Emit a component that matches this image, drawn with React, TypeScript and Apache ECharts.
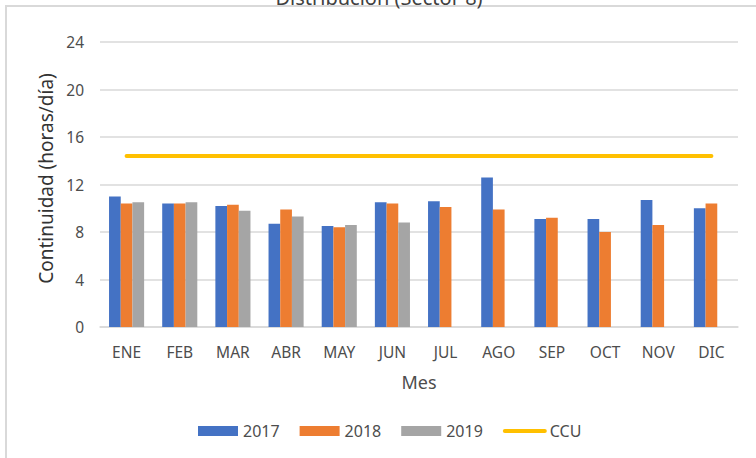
import React, { useEffect, useRef } from "react";
import * as echarts from "echarts";

const months = ["ENE", "FEB", "MAR", "ABR", "MAY", "JUN", "JUL", "AGO", "SEP", "OCT", "NOV", "DIC"];
const s2017 = [11.0, 10.4, 10.2, 8.7, 8.5, 10.5, 10.6, 12.6, 9.1, 9.1, 10.7, 10.0];
const s2018 = [10.4, 10.4, 10.3, 9.9, 8.4, 10.4, 10.1, 9.9, 9.2, 8.0, 8.6, 10.4];
const s2019: (number | null)[] = [10.5, 10.5, 9.8, 9.3, 8.6, 8.8, null, null, null, null, null, null];
const ccu = [14.4, 14.4, 14.4, 14.4, 14.4, 14.4, 14.4, 14.4, 14.4, 14.4, 14.4, 14.4];
const yTicks = { min: 0, max: 24, interval: 4 };
const titleText = "Distribución (Sector 8)";

const FONT = "'Noto Sans', sans-serif";
const TXT = "#4d4d4d";

export default function App() {
  const ref = useRef<HTMLDivElement>(null);
  useEffect(() => {
    if (!ref.current) return;
    const chart = echarts.init(ref.current, null, { renderer: "svg" });
    chart.setOption({
      animation: false,
      backgroundColor: "#ffffff",
      textStyle: { fontFamily: FONT },
      graphic: [
        {
          type: "rect",
          shape: { x: 6, y: 6, width: 800, height: 500 },
          style: { fill: "none", stroke: "#D9D9D9", lineWidth: 2 },
          silent: true,
        },
        {
          type: "text",
          x: 379,
          y: 7,
          style: {
            text: titleText,
            fontSize: 20,
            fontFamily: FONT,
            fill: "#404040",
            align: "center",
            verticalAlign: "bottom",
          },
          silent: true,
        },
      ],
      grid: { left: 100, right: 18, top: 42, bottom: 131, containLabel: false },
      legend: {
        bottom: 14,
        left: 193,
        itemGap: 20,
        itemWidth: 40,
        itemHeight: 10,
        textStyle: { fontSize: 16, color: TXT, fontFamily: FONT },
        data: [
          { name: "2017", icon: "rect" },
          { name: "2018", icon: "rect" },
          { name: "2019", icon: "rect" },
          { name: "CCU", itemStyle: { opacity: 0 }, lineStyle: { width: 4, cap: "round", color: "#FFC000" } },
        ],
      },
      xAxis: {
        type: "category",
        data: months,
        boundaryGap: true,
        axisLine: { show: true, lineStyle: { color: "#D9D9D9", width: 1.5 } },
        axisTick: { show: false },
        axisLabel: { color: TXT, fontSize: 15.5, margin: 17, fontFamily: FONT },
        name: "Mes",
        nameLocation: "middle",
        nameGap: 46,
        nameTextStyle: { color: TXT, fontSize: 18, fontFamily: FONT },
      },
      yAxis: {
        type: "value",
        min: yTicks.min,
        max: yTicks.max,
        interval: yTicks.interval,
        axisLine: { show: false },
        axisTick: { show: false },
        splitLine: { lineStyle: { color: "#D9D9D9", width: 1.5 } },
        axisLabel: { color: TXT, fontSize: 15.5, margin: 16, fontFamily: FONT },
        name: "Continuidad (horas/día)",
        nameLocation: "middle",
        nameGap: 44,
        nameRotate: 90,
        nameTextStyle: { color: "#333333", fontSize: 19, fontFamily: FONT, padding: [0, 0, 0, 12] },
      },
      series: [
        { name: "2017", type: "bar", data: s2017, barGap: "0%", barCategoryGap: "34%", itemStyle: { color: "#4472C4" } },
        { name: "2018", type: "bar", data: s2018, barGap: "0%", barCategoryGap: "34%", itemStyle: { color: "#ED7D31" } },
        { name: "2019", type: "bar", data: s2019, barGap: "0%", barCategoryGap: "34%", itemStyle: { color: "#A5A5A5" } },
        {
          name: "CCU",
          type: "line",
          data: ccu,
          symbol: "none",
          lineStyle: { color: "#FFC000", width: 4, cap: "round" },
          itemStyle: { color: "#FFC000" },
        },
      ],
    });
    return () => chart.dispose();
  }, []);
  return <div ref={ref} style={{ position: "fixed", left: 0, top: 0, width: 756, height: 458 }} />;
}
